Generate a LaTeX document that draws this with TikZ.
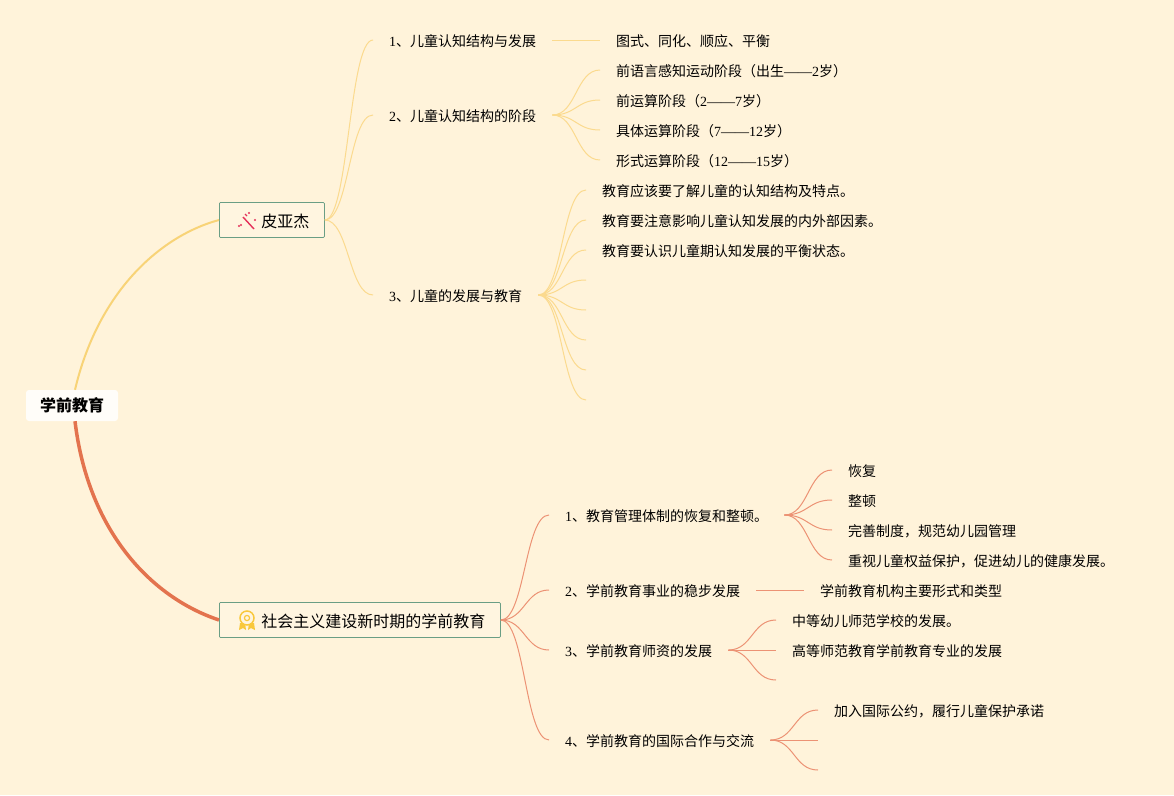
\documentclass[tikz,border=0pt]{standalone}
\usepackage{fontspec}
\setmainfont{Noto Sans CJK SC}
\newfontfamily\lat{Liberation Serif}
\newcommand{\dg}[1]{{\lat #1}}
\definecolor{bgc}{HTML}{FFF3DA}
\definecolor{yel}{HTML}{F8D377}
\definecolor{yell}{HTML}{FBDA8E}
\definecolor{org}{HTML}{E3734E}
\definecolor{orgl}{HTML}{EC9274}
\definecolor{grn}{HTML}{6A9E85}
\definecolor{wandc}{HTML}{E5305A}
\definecolor{medalc}{HTML}{F9C83C}
\tikzset{
  rootbox/.style={fill=white!85!bgc,rounded corners=3pt,minimum width=92pt,minimum height=31pt,inner sep=0pt,font=\fontsize{16}{16}\selectfont\bfseries},
  topicbox/.style={draw=grn,line width=.8pt,fill=white!15!bgc,rounded corners=1pt,anchor=west,minimum height=35pt,inner ysep=0pt,inner xsep=15pt,align=right,text height=14pt,text depth=0pt,font=\fontsize{16}{16}\selectfont},
  item/.style={anchor=west,inner xsep=16pt,inner ysep=0pt,text height=13pt,text depth=1pt,font=\fontsize{14}{14}\selectfont},
  yline/.style={yell,line width=1pt},
  oline/.style={orgl,line width=1pt},
}
\begin{document}
\begin{tikzpicture}[x=1pt,y=-1pt]
    \fill[bgc] (0,0) rectangle (1174,795);
    \useasboundingbox (0,0) rectangle (1174,795);
    \node[rootbox] (root) at (72,405.5) {学前教育};
    \node[topicbox,text width=75pt] (pi) at (219,220) {皮亚杰};
    \node[topicbox,text width=251pt] (she) at (219,620) {社会主义建设新时期的学前教育};
    \draw[yel,line width=2pt] ([xshift=3pt]root.north) .. controls (98,292) and (160,236) .. (pi.west);
    \draw[org,line width=3.5pt] ([xshift=3pt]root.south) .. controls (88,530) and (150,597) .. (she.west);
    % icons
    \coordinate (wand) at (247,220);
    \draw[wandc,line width=1.4pt] ([shift={(-4,-3)}]wand) -- ([shift={(7,9)}]wand);
    \foreach \u in {(-8,6),(-6,5),(2,-7),(8,0)} {\fill[wandc] ([shift={\u}]wand) circle[radius=1.1pt];}
    \draw[wandc,line width=1.2pt] ([shift={(-2,-6)}]wand) -- ([shift={(0,-4)}]wand);
    \coordinate (medal) at (247,618);
    \fill[medalc] ([shift={(-7,5)}]medal) -- ([shift={(-2,5)}]medal) -- ([shift={(-1,12)}]medal) -- ([shift={(-4,10)}]medal) -- ([shift={(-8,12)}]medal) -- cycle;
    \fill[medalc] ([shift={(7,5)}]medal) -- ([shift={(2,5)}]medal) -- ([shift={(1,12)}]medal) -- ([shift={(4,10)}]medal) -- ([shift={(8,12)}]medal) -- cycle;
    \draw[medalc,line width=1.5pt,fill=white!15!bgc] (medal) circle[radius=7pt];
    \draw[medalc,line width=1.2pt] (medal) circle[radius=2.6pt];
    % upper branch
    \foreach \y/\t [count=\i from 1] in {40/\dg{1}、儿童认知结构与发展,115/\dg{2}、儿童认知结构的阶段,295/\dg{3}、儿童的发展与教育} {
      \node[item] (a\i) at (373,\y) {\t};
      \draw[yline] (pi.east) .. controls +(24,0) and +(-24,0) .. (a\i.west);
    }
    \node[item] (a1k) at (600,40) {图式、同化、顺应、平衡};
    \draw[yline] (a1.east) -- (a1k.west);
    \foreach \y/\t [count=\i from 1] in {70/前语言感知运动阶段（出生\dg{——2}岁）,100/前运算阶段（\dg{2——7}岁）,130/具体运算阶段（\dg{7——12}岁）,160/形式运算阶段（\dg{12——15}岁）} {
      \node[item] (b\i) at (600,\y) {\t};
      \draw[yline] (a2.east) .. controls +(24,0) and +(-24,0) .. (b\i.west);
    }
    \foreach \y/\t [count=\i from 1] in {190/教育应该要了解儿童的认知结构及特点。,220/教育要注意影响儿童认知发展的内外部因素。,250/教育要认识儿童期认知发展的平衡状态。} {
      \node[item] (c\i) at (586,\y) {\t};
      \draw[yline] (a3.east) .. controls +(24,0) and +(-24,0) .. (c\i.west);
    }
    \foreach \y [count=\i from 4] in {280,310,340,370,400} {
      \coordinate (c\i) at (586,\y);
      \draw[yline] (a3.east) .. controls +(24,0) and +(-24,0) .. (c\i);
    }
    % lower branch
    \foreach \y/\t [count=\i from 1] in {515/\dg{1}、教育管理体制的恢复和整顿。,590/\dg{2}、学前教育事业的稳步发展,650/\dg{3}、学前教育师资的发展,740/\dg{4}、学前教育的国际合作与交流} {
      \node[item] (d\i) at (549,\y) {\t};
      \draw[oline] (she.east) .. controls +(24,0) and +(-24,0) .. (d\i.west);
    }
    \foreach \y/\t [count=\i from 1] in {470/恢复,500/整顿,530/完善制度，规范幼儿园管理,560/重视儿童权益保护，促进幼儿的健康发展。} {
      \node[item] (e\i) at (832,\y) {\t};
      \draw[oline] (d1.east) .. controls +(24,0) and +(-24,0) .. (e\i.west);
    }
    \node[item] (f1) at (804,590) {学前教育机构主要形式和类型};
    \draw[oline] (d2.east) -- (f1.west);
    \foreach \y/\t [count=\i from 1] in {620/中等幼儿师范学校的发展。,650/高等师范教育学前教育专业的发展} {
      \node[item] (g\i) at (776,\y) {\t};
      \draw[oline] (d3.east) .. controls +(24,0) and +(-24,0) .. (g\i.west);
    }
    \coordinate (g3) at (776,680);
    \draw[oline] (d3.east) .. controls +(24,0) and +(-24,0) .. (g3);
    \node[item] (h1) at (818,710) {加入国际公约，履行儿童保护承诺};
    \draw[oline] (d4.east) .. controls +(24,0) and +(-24,0) .. (h1.west);
    \coordinate (h2) at (818,740);
    \coordinate (h3) at (818,770);
    \draw[oline] (d4.east) -- (h2);
    \draw[oline] (d4.east) .. controls +(24,0) and +(-24,0) .. (h3);
  \end{tikzpicture}
\end{document}
